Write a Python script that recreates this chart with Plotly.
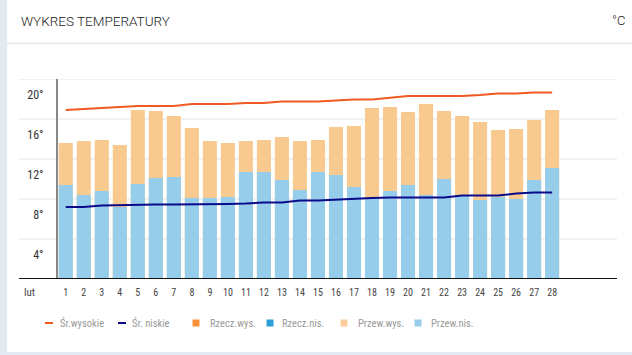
import plotly.graph_objects as go

days = list(range(1, 29))
day_labels = [str(d) for d in days]
month_label = "lut"

przew_wys = [13.6, 13.8, 13.9, 13.4, 16.9, 16.8, 16.3, 15.1, 13.8, 13.6, 13.8, 13.9, 14.2, 13.8,
             13.9, 15.2, 15.3, 17.1, 17.2, 16.7, 17.5, 16.8, 16.3, 15.7, 14.9, 15.0, 15.9, 16.9]
przew_nis = [9.4, 8.4, 8.8, 7.2, 9.5, 10.1, 10.2, 8.1, 8.1, 8.2, 10.7, 10.7, 9.9, 8.9,
             10.7, 10.4, 9.2, 8.1, 8.8, 9.4, 8.4, 10.0, 8.3, 7.9, 8.2, 8.0, 9.9, 11.1]
sr_wys = [16.9, 17.0, 17.1, 17.2, 17.3, 17.3, 17.3, 17.5, 17.5, 17.5, 17.6, 17.6, 17.75, 17.75,
          17.75, 17.85, 17.95, 17.95, 18.15, 18.3, 18.3, 18.3, 18.3, 18.4, 18.55, 18.55, 18.65, 18.65]
sr_nis = [7.2, 7.2, 7.35, 7.4, 7.4, 7.45, 7.45, 7.45, 7.45, 7.5, 7.55, 7.65, 7.65, 7.85,
          7.85, 7.95, 8.05, 8.1, 8.15, 8.15, 8.15, 8.15, 8.35, 8.35, 8.35, 8.55, 8.65, 8.65]

y_ticks = [4, 8, 12, 16, 20]
y_labels = ["4°", "8°", "12°", "16°", "20°"]
grid_vals = [4, 8, 12, 16, 20]

legend_names = ["Śr.wysokie", "Śr. niskie", "Rzecz.wys.", "Rzecz.nis.", "Przew.wys.", "Przew.nis."]
legend_colors = ["#f05a22", "#0a0a8a", "#f7923a", "#2c9fd9", "#fdcb9b", "#97cdea"]
legend_kinds = ["line", "line", "box", "box", "box", "box"]

W, H = 632, 355
L, R, T, B = 58, 15, 79, 76
PW, PH = W - L - R, H - T - B

def px(x):
    return (x - L) / PW

def py(y):
    return (H - B - y) / PH

FONT = "Roboto Condensed, Liberation Sans Narrow, DejaVu Sans Condensed, Roboto, sans-serif"
TFONT = "Roboto, sans-serif"

fig = go.Figure()
fig.add_trace(go.Bar(x=days, y=przew_wys, name="Przew.wys.", marker=dict(color="#f8ca90", line=dict(width=0)),
                     width=0.78, showlegend=False))
fig.add_trace(go.Bar(x=days, y=przew_nis, name="Przew.nis.", marker=dict(color="#95cdea", line=dict(width=0)),
                     width=0.78, showlegend=False))
fig.add_trace(go.Scatter(x=days, y=sr_wys, name="Śr.wysokie", mode="lines",
                         line=dict(color="#f05a22", width=2), showlegend=False))
fig.add_trace(go.Scatter(x=days, y=sr_nis, name="Śr. niskie", mode="lines",
                         line=dict(color="#0a0a8a", width=2), showlegend=False))

shapes = []
shapes.append(dict(type="rect", xref="paper", yref="paper", x0=px(7), x1=px(W + 5), y0=py(352), y1=py(-5),
                   fillcolor="white", line=dict(width=0), layer="below"))
shapes.append(dict(type="line", xref="paper", yref="paper", x0=px(7), x1=px(W), y0=py(43.5), y1=py(43.5),
                   line=dict(color="#ebebeb", width=2), layer="below"))
for g in grid_vals:
    shapes.append(dict(type="line", xref="paper", yref="y", x0=px(19), x1=px(617), y0=g, y1=g,
                       line=dict(color="#e3e3e3", width=1), layer="below"))
shapes.append(dict(type="line", xref="paper", yref="y", x0=px(19), x1=px(617), y0=0, y1=0,
                   line=dict(color="#111111", width=2), layer="above"))

annotations = [
    dict(text="WYKRES TEMPERATURY", xref="paper", yref="paper", x=px(19), y=py(21), xanchor="left",
         yanchor="middle", showarrow=False, font=dict(family=TFONT, size=13.5, color="#222", weight=300)),
    dict(text="°C", xref="paper", yref="paper", x=px(627), y=py(21), xanchor="right",
         yanchor="middle", showarrow=False, font=dict(family=TFONT, size=13, color="#222", weight=300)),
    dict(text=month_label, xref="paper", yref="paper", x=px(29), y=py(292), xanchor="center",
         yanchor="middle", showarrow=False, font=dict(family=FONT, size=11, color="#444")),
]

sym_x = [49, 122, 196, 270, 344, 418]
text_x = [59, 131, 209, 281, 357, 430]
ly = 323
for name, col, kind, sx, tx in zip(legend_names, legend_colors, legend_kinds, sym_x, text_x):
    if kind == "line":
        shapes.append(dict(type="line", xref="paper", yref="paper", x0=px(sx - 4), x1=px(sx + 4),
                           y0=py(ly), y1=py(ly), line=dict(color=col, width=2)))
    else:
        shapes.append(dict(type="rect", xref="paper", yref="paper", x0=px(sx - 3.5), x1=px(sx + 3.5),
                           y0=py(ly + 3.5), y1=py(ly - 3.5), fillcolor=col, line=dict(width=0)))
    annotations.append(dict(text=name, xref="paper", yref="paper", x=px(tx), y=py(ly), xanchor="left",
                            yanchor="middle", showarrow=False, xshift=-1,
                            font=dict(family=FONT, size=10.5, color="#9a9a9a")))

fig.update_layout(
    width=W, height=H,
    margin=dict(l=L, r=R, t=T, b=B, pad=0),
    paper_bgcolor="#e4eaf2", plot_bgcolor="rgba(0,0,0,0)",
    barmode="overlay", bargap=0.22,
    shapes=shapes, annotations=annotations,
    showlegend=False,
    xaxis=dict(range=[0.57, 31.6], tickmode="array", tickvals=days, ticktext=day_labels,
               showgrid=False, zeroline=False, showline=False, ticks="",
               tickfont=dict(family=FONT, size=10, color="#444"), ticklabelstandoff=6),
    yaxis=dict(range=[0, 20], tickmode="array", tickvals=y_ticks, ticktext=y_labels,
               showgrid=False, zeroline=False, showline=True, linecolor="#888", linewidth=2,
               ticks="", tickfont=dict(family=FONT, size=12, color="#333"),
               ticklabelshift=16, ticklabelstandoff=10),
)

fig.write_html("out.html", config={"displayModeBar": False},
               post_script="document.body.style.margin='0px';document.body.style.overflow='hidden';")
